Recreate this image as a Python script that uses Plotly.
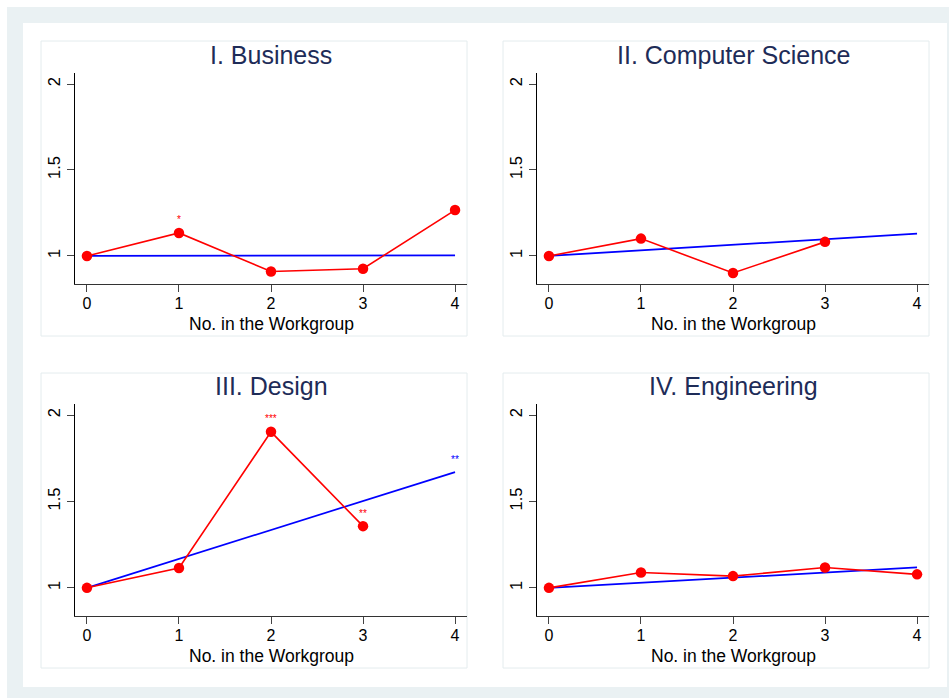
import plotly.graph_objects as go

W, H = 949, 698

# Group size on the x axis
workgroup = [0, 1, 2, 3, 4]

# Observed ratios (red) by field
business_obs = [1.0, 1.134, 0.910, 0.926, 1.267]
cs_obs = [1.0, 1.101, 0.901, 1.082]
design_obs = [1.0, 1.115, 1.903, 1.357]
engineering_obs = [1.0, 1.089, 1.068, 1.118, 1.078]

# Linear trend (blue), fitted values at x = 0 and x = 4
trend_x = [0, 4]
business_trend = [1.0, 1.004]
cs_trend = [1.0, 1.130]
design_trend = [1.0, 1.670]
engineering_trend = [1.0, 1.118]

panel_titles = ["I. Business", "II. Computer Science", "III. Design", "IV. Engineering"]

# Significance markers: panel index, x, value of the marked point, label, series
star_panel = [0, 2, 2, 2]
star_x = [1, 2, 3, 4]
star_y = [1.134, 1.903, 1.357, 1.670]
star_text = ["*", "***", "**", "**"]
star_series = ["obs", "obs", "obs", "trend"]

y_ticks = [1, 1.5, 2]
y_tick_text = ["1", "1.5", "2"]

RED = "#FF0000"
BLUE = "#0000FF"
TITLE_COLOR = "#1E2C58"
FONT = "Liberation Sans, Arial, sans-serif"

# Plot areas in pixels: (left, right, top, bottom)
plot_px = [
    (75, 467, 73, 284),
    (537, 929, 73, 284),
    (75, 467, 404, 616),
    (537, 929, 404, 616),
]
# Panel frames in pixels: (left, right, top, bottom)
frame_px = [
    (41, 467, 41, 336),
    (503, 929, 41, 336),
    (41, 467, 373, 668),
    (503, 929, 373, 668),
]


def px_x(v):
    return v / W


def px_y(v):
    return 1 - v / H


obs_series = [business_obs, cs_obs, design_obs, engineering_obs]
trend_series = [business_trend, cs_trend, design_trend, engineering_trend]

fig = go.Figure()

for i in range(4):
    xa = "x" if i == 0 else f"x{i + 1}"
    ya = "y" if i == 0 else f"y{i + 1}"
    fig.add_trace(go.Scatter(
        x=trend_x, y=trend_series[i], mode="lines",
        line=dict(color=BLUE, width=1.7),
        xaxis=xa, yaxis=ya, showlegend=False, hoverinfo="skip",
    ))
    obs = obs_series[i]
    fig.add_trace(go.Scatter(
        x=workgroup[:len(obs)], y=obs, mode="lines+markers",
        line=dict(color=RED, width=1.6),
        marker=dict(color=RED, size=10.5),
        xaxis=xa, yaxis=ya, showlegend=False, hoverinfo="skip",
    ))

layout = dict(
    width=W, height=H,
    margin=dict(l=0, r=0, t=0, b=0),
    paper_bgcolor="white",
    plot_bgcolor="white",
    font=dict(family=FONT, color="black"),
    shapes=[],
    annotations=[],
)

# Outer tinted frame and white inner area
layout["shapes"].append(dict(
    type="rect", xref="paper", yref="paper",
    x0=px_x(7), x1=1, y0=0, y1=px_y(7),
    fillcolor="#EAF1F3", line=dict(width=0), layer="below",
))
layout["shapes"].append(dict(
    type="rect", xref="paper", yref="paper",
    x0=px_x(23), x1=px_x(947), y0=px_y(687), y1=px_y(23),
    fillcolor="white", line=dict(width=0), layer="below",
))

for i in range(4):
    sfx = "" if i == 0 else str(i + 1)
    l, r, t, b = plot_px[i]
    fl, fr, ft, fb = frame_px[i]
    layout["shapes"].append(dict(
        type="rect", xref="paper", yref="paper",
        x0=px_x(fl), x1=px_x(fr), y0=px_y(fb), y1=px_y(ft),
        line=dict(color="#E4ECEE", width=1), fillcolor="white", layer="below",
    ))
    layout["xaxis" + sfx] = dict(
        domain=[px_x(l), px_x(r)],
        anchor="y" + sfx,
        range=[-0.13, 4.13],
        tickvals=workgroup,
        ticktext=[str(v) for v in workgroup],
        ticks="outside", ticklen=7, tickwidth=1, tickcolor="#444444",
        showline=True, linecolor="#333333", linewidth=1.3,
        showgrid=False, zeroline=False,
        tickfont=dict(size=16, family=FONT, color="black"),
        ticklabelstandoff=-2,
        fixedrange=True,
    )
    layout["yaxis" + sfx] = dict(
        domain=[px_y(b), px_y(t)],
        anchor="x" + sfx,
        range=[0.837, 2.064],
        tickvals=y_ticks,
        ticktext=y_tick_text,
        tickangle=-90,
        ticks="outside", ticklen=7, tickwidth=1, tickcolor="#444444",
        showline=True, linecolor="black", linewidth=1.3,
        showgrid=False, zeroline=False,
        tickfont=dict(size=16.5, family=FONT, color="black"),
        fixedrange=True,
    )
    # Panel title
    layout["annotations"].append(dict(
        text=panel_titles[i], xref="paper", yref="paper",
        x=px_x((l + r) / 2), y=px_y(t - 18), xanchor="center", yanchor="middle",
        showarrow=False, font=dict(size=25, family=FONT, color=TITLE_COLOR),
    ))
    # X axis title
    layout["annotations"].append(dict(
        text="No. in the Workgroup", xref="paper", yref="paper",
        x=px_x((l + r) / 2), y=px_y(b + 40), xanchor="center", yanchor="middle",
        showarrow=False, font=dict(size=17.5, family=FONT, color="black"),
    ))

for p, sx, sy, st, ss in zip(star_panel, star_x, star_y, star_text, star_series):
    sfx = "" if p == 0 else str(p + 1)
    layout["annotations"].append(dict(
        text=st, xref="x" + sfx, yref="y" + sfx,
        x=sx, y=sy, xanchor="center", yanchor="middle", yshift=13,
        showarrow=False,
        font=dict(size=10, family=FONT, color=RED if ss == "obs" else BLUE),
    ))

fig.update_layout(**layout)
fig.write_html("out.html")
